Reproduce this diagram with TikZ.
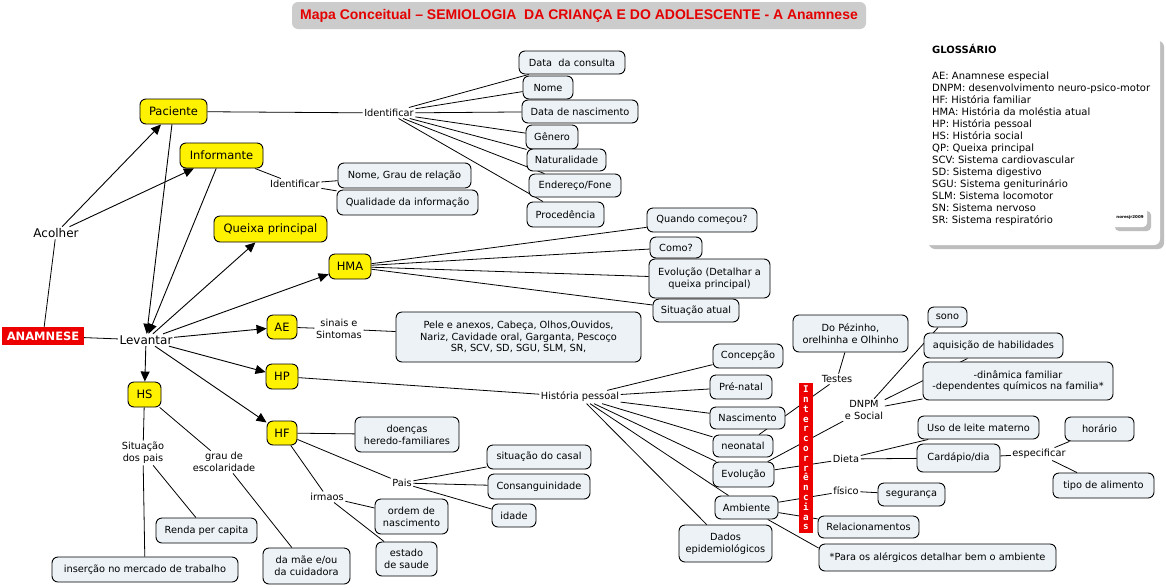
\documentclass[tikz,border=0pt]{standalone}
\usepackage{fontspec}
\setmainfont{DejaVu Sans}
\setmonofont{DejaVu Sans Mono}
\newfontfamily\titlefont{Liberation Sans}
\usetikzlibrary{arrows.meta,backgrounds}
\definecolor{boxfill}{RGB}{236,242,246}
\definecolor{titlegray}{RGB}{204,204,204}
\definecolor{titlered}{RGB}{228,0,0}
\definecolor{anared}{RGB}{236,0,0}
\definecolor{shadowc}{RGB}{190,190,190}
\tikzset{
 box/.style={draw, line width=0.9pt, rounded corners=6pt, fill=boxfill, inner sep=0pt, align=center, font=\fontsize{9.8}{11.7}\selectfont},
 ybox/.style={draw, line width=0.9pt, rounded corners=6pt, fill=yellow, inner sep=0pt, font=\fontsize{11.5}{13}\selectfont},
 lbl/.style={inner sep=1.5pt, align=center, font=\fontsize{9.8}{11.7}\selectfont},
 big/.style={inner sep=1.5pt, font=\fontsize{12}{14}\selectfont},
 gl/.style={inner sep=0pt, font=\fontsize{10}{12}\selectfont},
 conn/.style={line width=0.8pt},
 arr/.style={line width=0.9pt, -{Triangle[length=10pt,width=9pt]}},
}
\begin{document}
\begin{tikzpicture}[x=1pt,y=-1pt]
\useasboundingbox (0,0) rectangle (1166,587);
% title
\node[fill=titlegray, rounded corners=6pt, minimum width=574, minimum height=27, inner sep=0pt, text=titlered, font=\titlefont\bfseries\fontsize{14}{16}\selectfont] (title) at (579,15.5) {Mapa Conceitual – SEMIOLOGIA\ \ DA CRIANÇA E DO ADOLESCENTE - A Anamnese};
% glossary
\fill[shadowc, rounded corners=6pt] (929,41) rectangle (1164,249);
\fill[white, rounded corners=6pt] (925,37) rectangle (1160,245);
\fill[shadowc, rounded corners=4pt] (1115,211) rectangle (1151,231);
\fill[white, rounded corners=4pt] (1111,207) rectangle (1147,227);
\node[inner sep=0pt, font=\bfseries\fontsize{4}{5}\selectfont] (nores) at (1130,217) {noresjr2009};
\node[gl, anchor=base west, font=\bfseries\fontsize{10}{12}\selectfont] (glt) at (932,53.5) {GLOSSÁRIO};
\foreach \t [count=\i] in {AE: Anamnese especial, DNPM: desenvolvimento neuro-psico-motor, HF: História familiar, HMA: História da moléstia atual, HP: História pessoal, HS: História social, QP: Queixa principal, SCV: Sistema cardiovascular, SD: Sistema digestivo, SGU: Sistema geniturinário, SLM: Sistema locomotor, SN: Sistema nervoso, SR: Sistema respiratório}
  \node[gl, anchor=base west] (gl\i) at (932,{79+(\i-1)*12.04}) {\t};

% main nodes
\node[fill=anared, text=white, minimum width=82, minimum height=18, inner sep=0pt, font=\bfseries\fontsize{11.5}{13}\selectfont] (ana) at (43,336) {ANAMNESE};
\node[big] (lev) at (146,340) {Levantar};
\node[big] (aco) at (56,233) {Acolher};

\node[ybox, minimum width=67, minimum height=25] (pac) at (173.5,111.5) {Paciente};
\node[ybox, minimum width=83, minimum height=25] (inf) at (221.5,155.5) {Informante};
\node[ybox, minimum width=113, minimum height=26] (qp) at (270.5,229) {Queixa principal};
\node[ybox, minimum width=42, minimum height=25] (hma) at (350,266.5) {HMA};
\node[ybox, minimum width=30, minimum height=24] (ae) at (282,327) {AE};
\node[ybox, minimum width=32, minimum height=25] (hp) at (282,376.5) {HP};
\node[ybox, minimum width=33, minimum height=25] (hs) at (144.5,394.5) {HS};
\node[ybox, minimum width=30, minimum height=24] (hf) at (282,433) {HF};

% labels
\node[lbl] (id1) at (389,113) {Identificar};
\node[lbl] (id2) at (295,184) {Identificar};
\node[lbl] (sin) at (339,329) {sinais e\\Sintomas};
\node[lbl] (hpl) at (580,397) {História pessoal};
\node[lbl] (tes) at (837,379) {Testes};
\node[lbl] (dnpm) at (864,410) {DNPM\\e Social};
\node[lbl] (die) at (846,459) {Dieta};
\node[lbl] (esp) at (1039,454) {especificar};
\node[lbl] (fis) at (846,491) {físico};
\node[lbl] (pais) at (402,483) {Pais};
\node[lbl] (irm) at (327,497) {irmaos};
\node[lbl] (sit) at (143,453) {Situação\\dos pais};
\node[lbl] (gra) at (224,462) {grau de\\escolaridade};

% boxes
\node[box, minimum width=106, minimum height=23] (dc) at (572,62.5) {Data\ \ da consulta};
\node[box, minimum width=50, minimum height=23] (nome) at (548,87.5) {Nome};
\node[box, minimum width=116, minimum height=23] (dn) at (580,111.5) {Data de nascimento};
\node[box, minimum width=52, minimum height=24] (gen) at (552,137) {Gênero};
\node[box, minimum width=79, minimum height=22] (nat) at (566.5,160) {Naturalidade};
\node[box, minimum width=92, minimum height=23] (ender) at (575,185.5) {Endereço/Fone};
\node[box, minimum width=77, minimum height=25] (proc) at (565.5,214.5) {Procedência};
\node[box, minimum width=133, minimum height=25] (ngr) at (404.5,175.5) {Nome, Grau de relação};
\node[box, minimum width=141, minimum height=25] (qi) at (407.5,202.5) {Qualidade da informação};
\node[box, minimum width=110, minimum height=24] (qc) at (702,220) {Quando começou?};
\node[box, minimum width=52, minimum height=21] (como) at (676,247.5) {Como?};
\node[box, minimum width=121, minimum height=39] (evh) at (709.5,278.5) {Evolução (Detalhar a\\queixa principal)};
\node[box, minimum width=86, minimum height=23] (sa) at (696,310.5) {Situação atual};
\node[box, minimum width=245, minimum height=50] (pele) at (518.5,337) {Pele e anexos, Cabeça, Olhos,Ouvidos,\\Nariz, Cavidade oral, Garganta, Pescoço\\SR, SCV, SD, SGU, SLM, SN,};
\node[box, minimum width=70, minimum height=24] (conc) at (748,356) {Concepção};
\node[box, minimum width=62, minimum height=24] (pre) at (741,387) {Pré-natal};
\node[box, minimum width=75, minimum height=22] (nasc) at (747.5,418) {Nascimento};
\node[box, minimum width=60, minimum height=22] (neo) at (743,446) {neonatal};
\node[box, minimum width=61, minimum height=25] (evo) at (743.5,474.5) {Evolução};
\node[box, minimum width=63, minimum height=23] (amb) at (746.5,507.5) {Ambiente};
\node[box, minimum width=93, minimum height=37] (dep) at (725.5,543.5) {Dados\\epidemiológicos};
\node[box, minimum width=115, minimum height=37] (pez) at (850.5,333.5) {Do Pézinho,\\orelhinha e Olhinho};
\node[box, minimum width=39, minimum height=20] (sono) at (947.5,317) {sono};
\node[box, minimum width=139, minimum height=25] (aqh) at (993.5,345.5) {aquisição de habilidades};
\node[box, minimum width=190, minimum height=38] (dyn) at (1018,381) {-dinâmica familiar\\-dependentes químicos na familia*};
\node[box, minimum width=121, minimum height=23] (leite) at (978.5,427.5) {Uso de leite materno};
\node[box, minimum width=83, minimum height=28] (card) at (958.5,458) {Cardápio/dia};
\node[box, minimum width=69, minimum height=24] (hor) at (1099.5,429) {horário};
\node[box, minimum width=101, minimum height=25] (tipo) at (1103.5,485.5) {tipo de alimento};
\node[box, minimum width=67, minimum height=23] (seg) at (911.5,494.5) {segurança};
\node[box, minimum width=101, minimum height=22] (rel) at (868.5,527) {Relacionamentos};
\node[box, minimum width=237, minimum height=27] (para) at (937.5,557.5) {*Para os alérgicos detalhar bem o ambiente};
\node[box, minimum width=104, minimum height=35] (doe) at (407,434.5) {doenças\\heredo-familiares};
\node[box, minimum width=104, minimum height=24] (sc) at (539,457) {situação do casal};
\node[box, minimum width=102, minimum height=25] (cons) at (539,486.5) {Consanguinidade};
\node[box, minimum width=44, minimum height=23] (idade) at (514,515.5) {idade};
\node[box, minimum width=73, minimum height=35] (ord) at (411.5,516.5) {ordem de\\nascimento};
\node[box, minimum width=61, minimum height=34] (est) at (406.5,559) {estado\\de saude};
\node[box, minimum width=101, minimum height=25] (renda) at (206.5,530.5) {Renda per capita};
\node[box, minimum width=186, minimum height=25] (ins) at (145,569.5) {inserção no mercado de trabalho};
\node[box, minimum width=87, minimum height=36] (mae) at (306.5,566) {da mãe e/ou\\da cuidadora};

% intercorrencias bar
\node[fill=anared, text=white, minimum width=14, minimum height=150, inner sep=0pt, align=center, font=\ttfamily\bfseries\fontsize{9.3}{9.8}\selectfont] (intc) at (806,458) {I\\n\\t\\e\\r\\c\\o\\r\\r\\ê\\n\\c\\i\\a\\s};

% connectors
\begin{scope}[on background layer]
\fill[white] (0,0) rectangle (1166,587);
\draw[conn] (ana) -- (aco);
\draw[conn] (ana) -- (lev);
\draw[arr] (aco) -- (pac);
\draw[arr] (aco) -- (inf);
\draw[arr] (pac) -- (lev);
\draw[arr] (inf) -- (lev);
\draw[arr] (lev) -- (qp);
\draw[arr] (lev) -- (hma);
\draw[arr] (lev) -- (ae);
\draw[arr] (lev) -- (hp);
\draw[arr] (lev) -- (hs);
\draw[arr] (lev) -- (hf);
\draw[conn] (pac) -- (id1);
\foreach \n in {dc,nome,dn,gen,nat,ender,proc} \draw[conn] (id1) -- (\n);
\draw[conn] (inf) -- (id2);
\foreach \n in {ngr,qi} \draw[conn] (id2) -- (\n);
\foreach \n in {qc,como,evh,sa} \draw[conn] (hma) -- (\n);
\draw[conn] (ae) -- (sin) -- (pele);
\draw[conn] (hp) -- (hpl);
\foreach \n in {conc,pre,nasc,neo,evo,amb,dep} \draw[conn] (hpl) -- (\n);
\draw[conn] (neo) -- (tes) -- (pez);
\draw[conn] (evo) -- (dnpm);
\foreach \n in {sono,aqh,dyn} \draw[conn] (dnpm) -- (\n);
\draw[conn] (evo) -- (die);
\foreach \n in {leite,card} \draw[conn] (die) -- (\n);
\draw[conn] (card) -- (esp);
\foreach \n in {hor,tipo} \draw[conn] (esp) -- (\n);
\draw[conn] (amb) -- (fis) -- (seg);
\draw[conn] (amb) -- (rel);
\draw[conn] (amb) -- ([yshift=9.5pt]para.west);
\draw[conn] (hf) -- (doe);
\draw[conn] (hf) -- (pais);
\foreach \n in {sc,cons,idade} \draw[conn] (pais) -- (\n);
\draw[conn] (hf) -- (irm);
\foreach \n in {ord,est} \draw[conn] (irm) -- (\n);
\draw[conn] (hs) -- (sit);
\foreach \n in {renda,ins} \draw[conn] (sit) -- (\n);
\draw[conn] (hs) -- (gra);
\draw[conn] (gra) -- (mae);
\end{scope}
\end{tikzpicture}
\end{document}
